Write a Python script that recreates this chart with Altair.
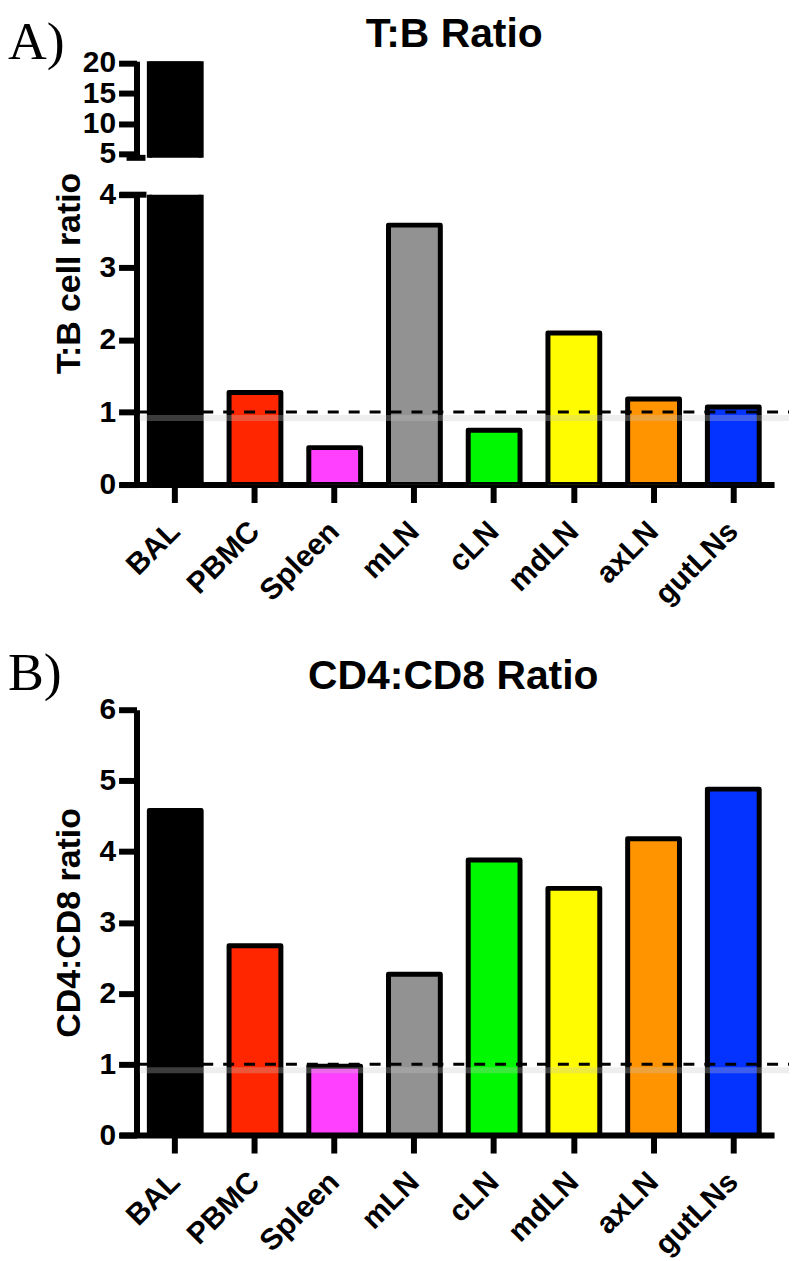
import altair as alt
import pandas as pd

# ---------------- data ----------------
categories = ["BAL", "PBMC", "Spleen", "mLN", "cLN", "mdLN", "axLN", "gutLNs"]
bar_colors = ["#000000", "#FF2600", "#FF40FF", "#929292", "#00F900", "#FFFB00", "#FF9300", "#0433FF"]
tb_ratio = [20.3, 1.27, 0.51, 3.58, 0.75, 2.09, 1.18, 1.07]
cd4_cd8_ratio = [4.58, 2.67, 0.97, 2.27, 3.88, 3.48, 4.18, 4.88]
tb_upper_ticks = [5, 10, 15, 20]
tb_lower_ticks = [0, 1, 2, 3, 4]
cd_ticks = [0, 1, 2, 3, 4, 5, 6]
tb_upper_domain = [4.35, 20.3]
tb_lower_domain = [0, 4]
cd_domain = [0, 6]
reference_ratio = 1
panel_letters = ["A)", "B)"]
panel_titles = ["T:B Ratio", "CD4:CD8 Ratio"]
y_titles = ["T:B cell ratio", "CD4:CD8 ratio"]

df_tb = pd.DataFrame({"category": categories, "value": tb_ratio})
df_cd = pd.DataFrame({"category": categories, "value": cd4_cd8_ratio})
df_one = pd.DataFrame({"k": [0]})

FONT = "Liberation Sans"
SERIF = "Liberation Serif"
W = 657

x_scale = alt.Scale(domain=categories, paddingInner=0.35, paddingOuter=0.28, align=0.667)
color_enc = alt.Color("category:N", scale=alt.Scale(domain=categories, range=bar_colors), legend=None)


def y_axis(values, title=None, title_y=None):
    kw = dict(values=values, tickCount=20, format="d", offset=-17, grid=False, domainWidth=6,
              tickWidth=6, tickSize=18, labelFontSize=30, labelPadding=3, labelFont=FONT,
              labelFontWeight="bold", labelColor="black", domainColor="black", tickColor="black",
              labelOverlap=False)
    if title:
        kw.update(title=title, titleFont=FONT, titleFontSize=34, titleFontWeight="bold",
                  titleColor="black", titleAngle=270, titleBaseline="alphabetic",
                  titleAlign="center", titleX=-57)
        if title_y is not None:
            kw["titleY"] = title_y
    else:
        kw["title"] = None
    return alt.Axis(**kw)


x_axis = alt.Axis(title=None, labelAngle=-45, labelAlign="right", labelBaseline="middle",
                  labelFontSize=30, labelFont=FONT, labelFontWeight="bold", labelColor="black",
                  labelPadding=24, labelOffset=0, labelOverlap=False, domainWidth=6, tickWidth=6,
                  tickSize=18, domainColor="black", tickColor="black")


def bars(df, y_dom, axis, show_x):
    return alt.Chart(df).mark_bar(stroke="black", strokeWidth=5, strokeJoin="round", clip=True).encode(
        x=alt.X("category:N", scale=x_scale, sort=categories, axis=x_axis if show_x else None),
        y=alt.Y("value:Q", scale=alt.Scale(domain=y_dom, nice=False, zero=False), axis=axis),
        color=color_enc,
    )


def ref_lines(df):
    shadow = alt.Chart(df).mark_rule(color="#c8c8c8", strokeWidth=6, opacity=0.3, yOffset=6).encode(
        y=alt.datum(reference_ratio), x=alt.value(20), x2=alt.value(672))
    dashed = alt.Chart(df).mark_rule(color="black", strokeWidth=3, strokeDash=[11, 10]).encode(
        y=alt.datum(reference_ratio), x=alt.value(20), x2=alt.value(672))
    return [shadow, dashed]


def text_mark(text, x, y, size, font, align, baseline):
    return alt.Chart(df_one).mark_text(text=text, font=font, fontSize=size, align=align,
                                       baseline=baseline, color="black",
                                       fontWeight="bold" if font == FONT else "normal").encode(
        x=alt.value(x), y=alt.value(y))


# invisible element that fixes the top edge of the layout
top_holder = alt.Chart(df_one).mark_rule(opacity=0).encode(
    x=alt.value(300), x2=alt.value(320), y=alt.value(-51))

# ---- Panel A, upper (broken) segment ----
a_top_break = alt.Chart(df_one).mark_rule(color="black", strokeWidth=6).encode(
    y=alt.datum(tb_upper_domain[0]), x=alt.value(7), x2=alt.value(26))
a_top = alt.layer(
    bars(df_tb, tb_upper_domain, y_axis(tb_upper_ticks), False),
    a_top_break,
    top_holder,
    text_mark(panel_letters[0], -112, -45, 54, SERIF, "left", "top"),
    text_mark(panel_titles[0], 336, -46, 41, FONT, "center", "top"),
).properties(width=W, height=97)

# ---- Panel A, lower segment ----
a_low_break = alt.Chart(df_one).mark_rule(color="black", strokeWidth=6).encode(
    y=alt.datum(tb_lower_domain[1]), x=alt.value(0), x2=alt.value(27))
a_low = alt.layer(
    bars(df_tb, tb_lower_domain, y_axis(tb_lower_ticks, y_titles[0], title_y=78.5), True),
    *ref_lines(df_one),
    a_low_break,
).properties(width=W, height=291)

# ---- spacer ----
spacer = alt.Chart(df_one).mark_point(opacity=0).encode(
    x=alt.X("k:Q", axis=None), y=alt.Y("k:Q", axis=None)
).properties(width=W, height=152)

# ---- Panel B ----
b_chart = alt.layer(
    bars(df_cd, cd_domain, y_axis(cd_ticks, y_titles[1]), True),
    *ref_lines(df_one),
    text_mark(panel_letters[1], -112, -20, 54, SERIF, "left", "alphabetic"),
    text_mark(panel_titles[1], 335, -21, 41, FONT, "center", "alphabetic"),
).properties(width=W, height=427)

chart = alt.vconcat(a_top, a_low, spacer, b_chart, spacing=37, bounds="flush").resolve_scale(
    x="independent", y="independent", color="independent"
).properties(padding=0).configure_view(stroke=None)

chart.save("out.html", embed_options={"renderer": "svg", "actions": False})
